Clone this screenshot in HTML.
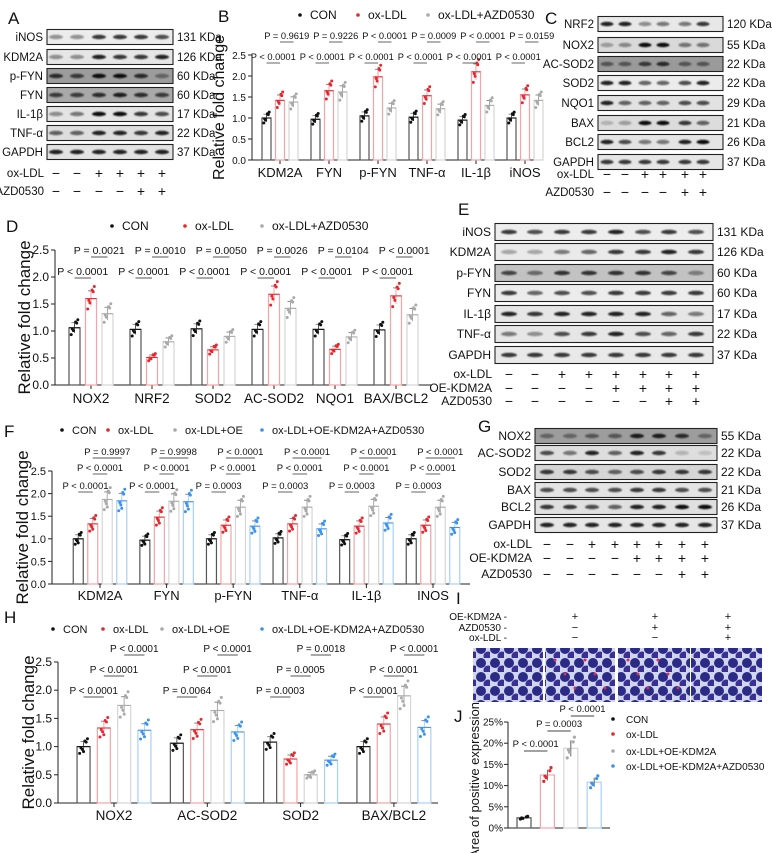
<!DOCTYPE html>
<html><head><meta charset="utf-8"><style>
body{margin:0;background:#fff}
svg{display:block;font-family:"Liberation Sans",Arial,sans-serif}
</style></head><body>
<svg id="fig" width="772" height="853" viewBox="0 0 772 853" xmlns="http://www.w3.org/2000/svg">
<defs><filter id="blur" x="-20%" y="-50%" width="140%" height="200%"><feGaussianBlur stdDeviation="0.9"/></filter>
<pattern id="cells" width="14" height="14" patternUnits="userSpaceOnUse"><rect width="14" height="14" fill="#cfd6ee"/><circle cx="5" cy="5" r="5" fill="#2b2a86"/><circle cx="12" cy="12" r="4.5" fill="#3a2f93"/></pattern></defs>
</svg>
<script>
// ---- chart data ----
const catsB=["KDM2A","FYN","p-FYN","TNF-α","IL-1β","iNOS"];
const conB=[1.0,0.97,1.05,1.02,0.95,1.0];
const oxB=[1.42,1.65,1.98,1.53,2.1,1.55];
const azdB=[1.38,1.62,1.24,1.22,1.3,1.42];
const pTopB=["P = 0.9619","P = 0.9226","P < 0.0001","P = 0.0009","P < 0.0001","P = 0.0159"];
const pLowB=["P < 0.0001","P < 0.0001","P < 0.0001","P < 0.0001","P < 0.0001","P < 0.0001"];
const catsD=["NOX2","NRF2","SOD2","AC-SOD2","NQO1","BAX/BCL2"];
const conD=[1.06,1.03,1.04,1.03,1.03,1.02];
const oxD=[1.6,0.51,0.65,1.68,0.66,1.65];
const azdD=[1.32,0.8,0.9,1.42,0.89,1.3];
const pTopD=["P = 0.0021","P = 0.0010","P = 0.0050","P = 0.0026","P = 0.0104","P < 0.0001"];
const pLowD=["P < 0.0001","P < 0.0001","P < 0.0001","P < 0.0001","P < 0.0001","P < 0.0001"];
const catsF=["KDM2A","FYN","p-FYN","TNF-α","IL-1β","INOS"];
const conF=[1.0,0.97,1.0,1.02,0.98,1.0];
const oxF=[1.33,1.48,1.3,1.33,1.28,1.3];
const oeF=[1.87,1.83,1.7,1.7,1.72,1.7];
const azdF=[1.84,1.82,1.28,1.22,1.35,1.25];
const p1F=["P = 0.9997","P = 0.9998","P < 0.0001","P < 0.0001","P < 0.0001","P < 0.0001"];
const p2F=["P < 0.0001","P < 0.0001","P < 0.0001","P < 0.0001","P < 0.0001","P < 0.0001"];
const p3F=["P < 0.0001","P < 0.0001","P = 0.0003","P = 0.0003","P = 0.0003","P = 0.0003"];
const catsH=["NOX2","AC-SOD2","SOD2","BAX/BCL2"];
const conH=[1.0,1.06,1.08,1.0];
const oxH=[1.33,1.3,0.78,1.4];
const oeH=[1.73,1.64,0.5,1.9];
const azdH=[1.29,1.26,0.76,1.34];
const p1H=["P < 0.0001","P < 0.0001","P = 0.0018","P < 0.0001"];
const p2H=["P < 0.0001","P < 0.0001","P = 0.0005","P < 0.0001"];
const p3H=["P < 0.0001","P = 0.0064","P = 0.0003","P < 0.0001"];
const yTicks=["0.0","0.5","1.0","1.5","2.0","2.5"];
const groupsJ=["CON","ox-LDL","ox-LDL+OE-KDM2A","ox-LDL+OE-KDM2A+AZD0530"];
const valsJ=[2.4,12.5,18.8,10.8];
const ticksJ=["0%","5%","10%","15%","20%","25%"];

const svg=document.getElementById('fig');
const NS="http://www.w3.org/2000/svg";
function el(tag,attrs,parent,txt){const e=document.createElementNS(NS,tag);for(const k in attrs)e.setAttribute(k,attrs[k]);if(txt!==undefined)e.textContent=txt;(parent||svg).appendChild(e);return e;}
function txt(x,y,s,size,anchor,parent,extra){const t=el('text',Object.assign({x:x,y:y,'font-size':size,'text-anchor':anchor||'start',fill:'#111'},extra||{}),parent,s);return t;}
function label(x,y,s,name){const t=txt(x,y,s,17,'start');}

const jit=[-0.12,0.08,-0.05,0.14,-0.02,0.1,-0.09];
const jx=[-3,2,-1,3,-2,1,0];
const ptCol=['#111','#e8262e','#aaaaaa','#3d93ec'];
const barCol=['#555','#f4a3a6','#d6d6d6','#a9d0f7'];

function chart(id,cfg){
  const g=el('g',{});
  
  
  const yS=v=>cfg.y0-(v/cfg.max)*(cfg.y0-cfg.yT);
  const cx=i=>cfg.c0+i*cfg.cs;
  const n=cfg.series.length;
  const bx=(i,j)=>cx(i)+(j-(n-1)/2)*cfg.bo;
  el('line',{x1:cfg.x0,y1:cfg.yT,x2:cfg.x0,y2:cfg.y0,stroke:'#222','stroke-width':1},g);
  el('line',{x1:cfg.x0,y1:cfg.y0,x2:cfg.x1,y2:cfg.y0,stroke:'#222','stroke-width':1},g);
  cfg.ticks.forEach((t,k)=>{const v=k*cfg.max/(cfg.ticks.length-1);const y=yS(v);
    el('line',{x1:cfg.x0-4,y1:y,x2:cfg.x0,y2:y,stroke:'#222'},g);
    const tt=txt(cfg.x0-6,y+4,t,cfg.tf||11,'end',g);});
  const yt=txt(0,0,cfg.ytitle,cfg.ytf||16,'middle',g,{transform:`translate(${cfg.ytx},${(cfg.yT+cfg.y0)/2}) rotate(-90)`});
  
  cfg.cats.forEach((c,i)=>{
    el('line',{x1:cx(i),y1:cfg.y0,x2:cx(i),y2:cfg.y0+4,stroke:'#222'},g);
    const ct=txt(cx(i),cfg.y0+(cfg.cly||17),c,cfg.cf||13,'middle',g);
    
    cfg.series.forEach((s,j)=>{
      const v=s[i],x=bx(i,j),y=yS(v),w=cfg.bw;
      const r=el('rect',{x:x-w/2,y:y,width:w,height:cfg.y0-y,fill:'#fff',stroke:barCol[j],'stroke-width':1.2},g);
      
      const e=v*0.09;
      el('line',{x1:x,y1:yS(v+e),x2:x,y2:yS(v-e),stroke:barCol[j]==='#d6d6d6'?'#aaa':barCol[j]},g);
      el('line',{x1:x-3,y1:yS(v+e),x2:x+3,y2:yS(v+e),stroke:'#888'},g);
      el('line',{x1:x-w/2,y1:y,x2:x+w/2,y2:y,stroke:ptCol[j],'stroke-width':1},g);
      for(let k=0;k<cfg.np;k++){const pv=v*(1+jit[k]);const px=x+jx[k]*(w/10);
        const p=el('circle',{cx:px,cy:yS(pv),r:1.5,fill:ptCol[j]},g);
        }
    });
  });
  cfg.prows.forEach(pr=>{
    pr.vals.forEach((p,i)=>{
      const xa=bx(i,pr.a),xb=bx(i,pr.b);const m=(xa+xb)/2;
      const pt=txt(m,pr.y,p,cfg.pf||10.5,'middle',g);
      
      el('line',{x1:xa,y1:pr.y+3,x2:xb,y2:pr.y+3,stroke:'#555','stroke-width':0.9},g);
    });
  });
  if(cfg.leg){cfg.leg.items.forEach((it,j)=>{
    const lx=cfg.leg.xs[j];
    el('circle',{cx:lx,cy:cfg.leg.y-4,r:1.8,fill:ptCol[j]},g);
    const lt=txt(lx+10,cfg.leg.y,it,cfg.leg.f||12,'start',g);
    });}
}

function blot(id,cfg){
  const g=el('g',{});
  
  
  cfg.rows.forEach((r,k)=>{
    const y=cfg.ys[k],h=cfg.h;
    const bg=r[2]||'#e8e8e8';
    el('rect',{x:cfg.x,y:y-h/2,width:cfg.w,height:h,fill:bg,stroke:'#222','stroke-width':1.1},g);
    cfg.cols.forEach((c,i)=>{
      const d=(r[3]&&r[3][i])!==undefined?r[3][i]:0.8;
      const b=el('ellipse',{cx:c,cy:y,rx:cfg.bw/2,ry:2.2,fill:'#111',opacity:d,filter:'url(#blur)'},g);
      });
    const nm=txt(cfg.x-4,y+4,r[0],cfg.f||12,'end',g);
    const kd=txt(cfg.x+cfg.w+4,y+4,r[1],cfg.f||12,'start',g);
  });
  cfg.conds.forEach((cd,k)=>{
    const y=cfg.cy[k];
    const ct=txt(cfg.cx,y+4,cd[0],cfg.f||12,'end',g);
    cd[1].forEach((s,i)=>{txt(cfg.cols[i],y+5,s==='+'?'+':'−',14,'middle',g);});
  });
}

label(8,24,'A','panel-a-label');label(218,22,'B','panel-b-label');label(545,24,'C','panel-c-label');
label(6,232,'D','panel-d-label');label(458,215,'E','panel-e-label');label(4,437,'F','panel-f-label');
label(478,432,'G','panel-g-label');label(4,623,'H','panel-h-label');label(456,604,'I','panel-i-label');label(454,722,'J','panel-j-label');

blot('blot-a',{x:47,w:126,h:15,bw:14,cols:[56,77,99,120,141,162],ys:[37,57,76,95,114,133,152],f:11.5,
 rows:[["iNOS","131 KDa","#ececec",[.4,.4,.8,.8,.8,.7]],["KDM2A","126 KDa","#e6e6e6",[.4,.4,.9,.8,.8,.9]],["p-FYN","60 KDa","#9c9c9c",[.8,.7,1,1,.8,.4]],["FYN","60 KDa","#a9a9a9",[.7,.7,.8,.9,.8,.7]],["IL-1β","17 KDa","#e4e4e4",[.4,.5,1,1,.8,.7]],["TNF-α","22 KDa","#dedede",[.6,.6,.9,.9,.8,.9]],["GAPDH","37 KDa","#e2e2e2",[.9,.9,.9,.9,.9,.9]]],
 cx:44,cy:[173,191],conds:[["ox-LDL",["-","-","+","+","+","+"]],["AZD0530",["-","-","-","-","+","+"]]]});
blot('blot-c',{x:598,w:125,h:15,bw:13,cols:[607,625,645,663,685,703],ys:[24,45,64,83,103,123,142,162],f:11.5,
 rows:[["NRF2","120 KDa","#e8e8e8",[.9,.9,.4,.5,.5,.8]],["NOX2","55 KDa","#d9d9d9",[.3,.4,1,1,.5,.5]],["AC-SOD2","22 KDa","#9a9a9a",[.5,.5,.7,.8,.5,.5]],["SOD2","22 KDa","#ececec",[.9,.9,.6,.6,.7,.9]],["NQO1","29 KDa","#e2e2e2",[.9,.6,.6,.6,.7,.7]],["BAX","21 KDa","#dcdcdc",[.2,.3,1,1,.8,.6]],["BCL2","26 KDa","#e4e4e4",[.9,.7,.5,.5,.9,1]],["GAPDH","37 KDa","#e6e6e6",[.8,.8,.8,.8,.8,.8]]],
 cx:594,cy:[174,192],conds:[["ox-LDL",["-","-","+","+","+","+"]],["AZD0530",["-","-","-","-","+","+"]]]});
blot('blot-e',{x:495,w:218,h:17,bw:16,cols:[509,535,562,589,616,643,669,696],ys:[232,252,273,293,314,334,355],f:12,
 rows:[["iNOS","131 KDa","#ededed",[.8,.7,.8,.8,.9,.7,.8,.7]],["KDM2A","126 KDa","#eaeaea",[.3,.3,.5,.6,.8,.8,.9,.8]],["p-FYN","60 KDa","#c2c2c2",[.7,.5,.8,.8,.8,.8,.7,.4]],["FYN","60 KDa","#ececec",[.8,.6,.7,.7,.8,.8,.8,.8]],["IL-1β","17 KDa","#e6e6e6",[.9,.8,.9,.9,.9,.9,.6,.5]],["TNF-α","22 KDa","#e6e6e6",[.5,.4,.7,.8,.9,.7,.6,.8]],["GAPDH","37 KDa","#e9e9e9",[.8,.8,.8,.8,.8,.8,.8,.8]]],
 cx:492,cy:[374,388,401],conds:[["ox-LDL",["-","-","+","+","+","+","+","+"]],["OE-KDM2A",["-","-","-","-","+","+","+","+"]],["AZD0530",["-","-","-","-","-","-","+","+"]]]});
blot('blot-g',{x:535,w:182,h:15,bw:14,cols:[547,570,592,615,637,659,682,705],ys:[436,453,472,490,507,525],f:12,
 rows:[["NOX2","55 KDa","#9d9d9d",[.4,.4,.5,.5,.9,.9,.8,.4]],["AC-SOD2","22 KDa","#dedede",[.7,.5,.9,.6,.9,.8,.2,.15]],["SOD2","22 KDa","#d6d6d6",[.8,.8,.7,.6,.7,.8,.8,.8]],["BAX","21 KDa","#e4e4e4",[.7,.7,.7,.7,.8,.8,.7,.7]],["BCL2","26 KDa","#e0e0e0",[.8,.8,.7,.6,.9,.9,1,1]],["GAPDH","37 KDa","#e6e6e6",[.9,.9,.9,.9,.9,.9,.9,.9]]],
 cx:532,cy:[544,558,574],conds:[["ox-LDL",["-","-","+","+","+","+","+","+"]],["OE-KDM2A",["-","-","-","-","+","+","+","+"]],["AZD0530",["-","-","-","-","-","-","+","+"]]]});

chart('chart-b',{x0:252,x1:535,y0:160,yT:55,max:2.5,ticks:yTicks,c0:280,cs:49,bo:13.5,bw:9,np:6,cats:catsB,series:[conB,oxB,azdB],
 ytitle:'Relative fold change',ytx:224,ytf:16,tf:10,cly:17,cf:13,pf:9.3,
 prows:[{vals:pTopB,a:1,b:2,y:39},{vals:pLowB,a:0,b:1,y:60}],
 leg:{y:19,items:['CON','ox-LDL','ox-LDL+AZD0530'],xs:[300,358,428],f:12}});
chart('chart-d',{x0:55,x1:432,y0:385,yT:250,max:2.5,ticks:yTicks,c0:91,cs:61,bo:16.5,bw:11,np:6,cats:catsD,series:[conD,oxD,azdD],
 ytitle:'Relative fold change',ytx:30,ytf:17,tf:12,cly:18,cf:13.5,pf:10.5,
 prows:[{vals:pTopD,a:1,b:2,y:254},{vals:pLowD,a:0,b:1,y:275}],
 leg:{y:230,items:['CON','ox-LDL','ox-LDL+AZD0530'],xs:[112,185,262],f:12}});
chart('chart-f',{x0:52,x1:470,y0:584,yT:471,max:2.5,ticks:yTicks,c0:100,cs:66.6,bo:14.5,bw:10,np:7,cats:catsF,series:[conF,oxF,oeF,azdF],
 ytitle:'Relative fold change',ytx:28,ytf:17,tf:11,cly:16,cf:13,pf:9.5,
 prows:[{vals:p1F,a:1,b:3,y:455},{vals:p2F,a:1,b:2,y:471},{vals:p3F,a:0,b:1,y:489}],
 leg:{y:434,items:['CON','ox-LDL','ox-LDL+OE','ox-LDL+OE-KDM2A+AZD0530'],xs:[62,108,175,262],f:11}});
chart('chart-h',{x0:58,x1:438,y0:803,yT:662,max:2.5,ticks:yTicks,c0:114,cs:93.3,bo:20.3,bw:13,np:7,cats:catsH,series:[conH,oxH,oeH,azdH],
 ytitle:'Relative fold change',ytx:34,ytf:17,tf:12,cly:17,cf:13.5,pf:10,
 prows:[{vals:p1H,a:2,b:3,y:652},{vals:p2H,a:1,b:2,y:673},{vals:p3H,a:0,b:1,y:694}],
 leg:{y:633,items:['CON','ox-LDL','ox-LDL+OE','ox-LDL+OE-KDM2A+AZD0530'],xs:[53,103,162,262],f:11}});

(function(){
  const g=el('g',{});
  
  
  const hdr=[["OE-KDM2A",["-","+","+","+"]],["AZD0530",["-","-","+","+"]],["ox-LDL",["-","-","-","+"]]];
  const ys=[617,628,638];
  hdr.forEach((h,k)=>{txt(507,ys[k]+3,h[0]+" -",10,'end',g);
    [575,655,728].forEach((x,i)=>txt(x,ys[k]+3,h[1][i+1]==='+'?'+':'−',11,'middle',g));});
  [[473,70],[545,70],[618,72],[691,71]].forEach((im,i)=>{
    const r=el('rect',{x:im[0],y:648,width:im[1],height:54,fill:'url(#cells)'},g);
    
    if(i>0&&i<3)for(let k=0;k<6;k++)el('circle',{cx:im[0]+10+k*10,cy:660+(k%3)*14,r:1.5,fill:'#d0305a'},g);
  });
})();

(function(){
  const g=el('g',{});
  
  
  const x0=508,y0=828,yT=722,max=25;
  const yS=v=>y0-(v/max)*(y0-yT);
  const bxs=i=>524+i*23.4;
  el('line',{x1:x0,y1:yT,x2:x0,y2:y0,stroke:'#222'},g);
  el('line',{x1:x0,y1:y0,x2:610,y2:y0,stroke:'#222'},g);
  ticksJ.forEach((t,k)=>{const y=yS(k*5);el('line',{x1:x0-4,y1:y,x2:x0,y2:y,stroke:'#222'},g);
    const tt=txt(x0-5,y+3.5,t,10,'end',g);});
  const yt=txt(0,0,'Area of positive expression',13,'middle',g,{transform:`translate(479,780) rotate(-90)`});
  
  valsJ.forEach((v,i)=>{const x=bxs(i),y=yS(v);
    const r=el('rect',{x:x-7,y:y,width:14,height:y0-y,fill:'#fff',stroke:barCol[i],'stroke-width':1.2},g);
    
    el('line',{x1:x,y1:yS(v*1.1),x2:x,y2:yS(v*0.9),stroke:'#666'},g);
    for(let k=0;k<5;k++){const p=el('circle',{cx:x+jx[k]*1.2,cy:yS(v*(1+jit[k])),r:1.6,fill:ptCol[i]},g);
      }
  });
  const pj=[["P < 0.0001",0,1,747],["P = 0.0003",1,2,727],["P < 0.0001",2,3,712]];
  pj.forEach(p=>{const a=bxs(p[1]),b=bxs(p[2]);const t=txt((a+b)/2,p[3],p[0],9.5,'middle',g);
    
    el('line',{x1:a,y1:p[3]+4,x2:b,y2:p[3]+4,stroke:'#444'},g);});
  const ly=[723,738,755,770];
  groupsJ.forEach((s,i)=>{el('circle',{cx:613,cy:ly[i]-4,r:1.8,fill:ptCol[i]},g);
    const t=txt(626,ly[i],s,10,'start',g);});
})();
</script>
</body></html>
